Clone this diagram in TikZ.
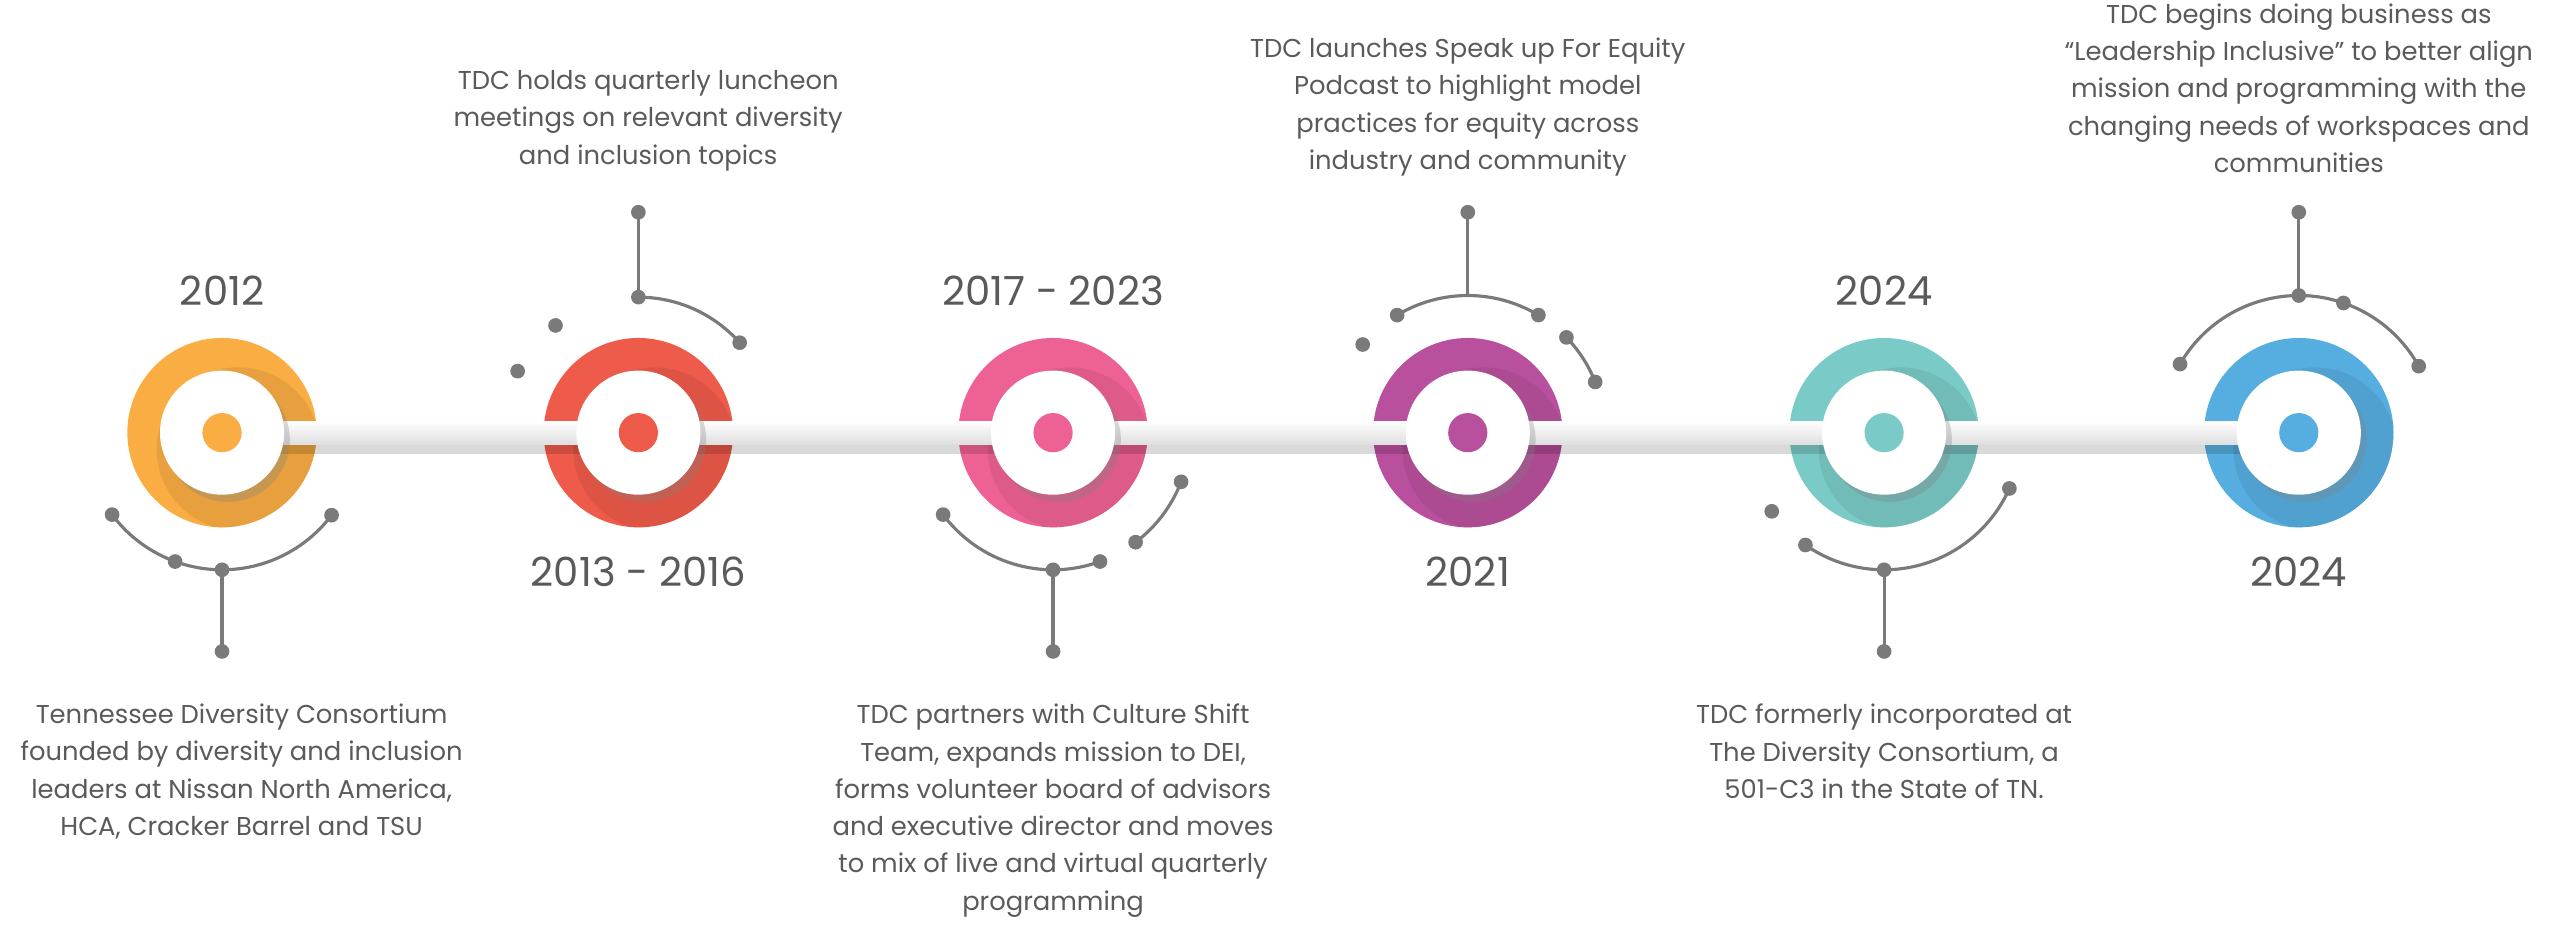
\documentclass[tikz,border=0pt]{standalone}
\usepackage{fontspec}
\setmainfont{Poppins}
\usetikzlibrary{shadows,calc}
\definecolor{cA}{HTML}{F9AD42}
\definecolor{cB}{HTML}{EF5B4A}
\definecolor{cC}{HTML}{EE6194}
\definecolor{cD}{HTML}{B9509E}
\definecolor{cE}{HTML}{7ACBC7}
\definecolor{cF}{HTML}{56AEE0}
\definecolor{txt}{HTML}{5A5A5A}
\definecolor{lin}{HTML}{7A7A7A}
\tikzset{
 ring/.style={circle,minimum size=116*0.02cm,inner sep=0},
 disc/.style={circle,fill=white,minimum size=76*0.02cm,inner sep=0,drop shadow={shadow xshift=2pt,shadow yshift=-2.5pt,opacity=.3}},
 dotc/.style={circle,minimum size=24*0.02cm,inner sep=0},
 yr/.style={font=\fontsize{14}{16}\selectfont,text=txt},
 desc/.style={font=\fontsize{9}{13}\selectfont,text=txt,align=center,anchor=north},
 con/.style={draw=lin,line width=1.1pt},
 pt/.style={fill=lin,circle,inner sep=0,minimum size=9*0.02cm}
}
\begin{document}
\begin{tikzpicture}[x=0.02cm,y=-0.02cm]
\useasboundingbox (0,0) rectangle (1568,578);
% rings
\foreach \n/\x/\c in {1/136/cA,2/391/cB,3/645/cC,4/899/cD,5/1154/cE,6/1408/cF}{
 \node[ring,fill=\c] (r\n) at (\x,265) {};
 \begin{scope}
 \clip (\x,265) circle (58);
 \fill[\c!80!black,opacity=.35] (\x+10,275) circle (50);
 \end{scope}
}
% bar
\fill[black,opacity=.15] (136,262) rectangle (1408,278);
\shade[top color=white,bottom color=gray!25] (136,258) rectangle (1408,272);
\foreach \n/\x/\c in {1/136/cA,2/391/cB,3/645/cC,4/899/cD,5/1154/cE,6/1408/cF}{
 \node[disc] (d\n) at (\x,265) {};
 \node[dotc,fill=\c] (m\n) at (\x,265) {};
}
% years
\node[yr] (y1) at (136,178) {2012};
\node[yr] (y2) at (391,350) {2013 - 2016};
\node[yr] (y3) at (645,178) {2017 - 2023};
\node[yr] (y4) at (899,350) {2021};
\node[yr] (y5) at (1154,178) {2024};
\node[yr] (y6) at (1408,350) {2024};
% decorations 1
\coordinate (c1) at (136,265);
\draw[con] ($(c1)+(-216.7:84)$) arc[start angle=-216.7,end angle=-323,radius=84];
\node[pt] (p1a) at ($(c1)+(-216.7:84)$) {};
\node[pt] (p1b) at ($(c1)+(-250:84)$) {};
\node[pt] (p1c) at (136,349) {};
\node[pt] (p1d) at ($(c1)+(-323:84)$) {};
\node[pt] (p1e) at (136,399) {};
\draw[con] (p1c.center) -- (p1e.center);
% 2
\coordinate (c2) at (391,265);
\draw[con] ($(c2)+(-41.6:83)$) arc[start angle=-41.6,end angle=-90,radius=83];
\node[pt] (p2a) at ($(c2)+(-41.6:83)$) {};
\node[pt] (p2b) at (391,182) {};
\node[pt] (p2c) at ($(c2)+(-127.7:83)$) {};
\node[pt] (p2d) at ($(c2)+(-153:83)$) {};
\node[pt] (p2e) at (391,130) {};
\draw[con] (p2b.center) -- (p2e.center);
% 3
\coordinate (c3) at (645,265);
\draw[con] ($(c3)+(-216.7:84)$) arc[start angle=-216.7,end angle=-290,radius=84];
\draw[con] ($(c3)+(-307:84)$) arc[start angle=-307,end angle=-339,radius=84];
\node[pt] (p3a) at ($(c3)+(-216.7:84)$) {};
\node[pt] (p3b) at (645,349) {};
\node[pt] (p3c) at ($(c3)+(-290:84)$) {};
\node[pt] (p3d) at ($(c3)+(-307:84)$) {};
\node[pt] (p3f) at ($(c3)+(-339:84)$) {};
\node[pt] (p3e) at (645,399) {};
\draw[con] (p3b.center) -- (p3e.center);
% 4
\coordinate (c4) at (899,265);
\draw[con] ($(c4)+(-121:84)$) arc[start angle=-121,end angle=-59,radius=84];
\draw[con] ($(c4)+(-44:84)$) arc[start angle=-44,end angle=-21.7,radius=84];
\node[pt] (p4a) at ($(c4)+(-121:84)$) {};
\node[pt] (p4b) at ($(c4)+(-59:84)$) {};
\node[pt] (p4c) at ($(c4)+(-140:84)$) {};
\node[pt] (p4d) at ($(c4)+(-44:84)$) {};
\node[pt] (p4f) at ($(c4)+(-21.7:84)$) {};
\node[pt] (p4e) at (899,130) {};
\coordinate (p4t) at (899,181);
\draw[con] (p4t) -- (p4e.center);
% 5
\coordinate (c5) at (1154,265);
\draw[con] ($(c5)+(-235:84)$) arc[start angle=-235,end angle=-336,radius=84];
\node[pt] (p5a) at ($(c5)+(-215:84)$) {};
\node[pt] (p5b) at ($(c5)+(-235:84)$) {};
\node[pt] (p5c) at (1154,349) {};
\node[pt] (p5d) at ($(c5)+(-336:84)$) {};
\node[pt] (p5e) at (1154,399) {};
\draw[con] (p5c.center) -- (p5e.center);
% 6
\coordinate (c6) at (1408,265);
\draw[con] ($(c6)+(-150:84)$) arc[start angle=-150,end angle=-29,radius=84];
\node[pt] (p6a) at ($(c6)+(-150:84)$) {};
\node[pt] (p6b) at (1408,181) {};
\node[pt] (p6c) at ($(c6)+(-71:84)$) {};
\node[pt] (p6d) at ($(c6)+(-29:84)$) {};
\node[pt] (p6e) at (1408,130) {};
\draw[con] (p6b.center) -- (p6e.center);
% texts
\node[desc] (t1) at (148,425) {Tennessee Diversity Consortium\\founded by diversity and inclusion\\leaders at Nissan North America,\\HCA, Cracker Barrel and TSU};
\node[desc] (t2) at (397,37) {TDC holds quarterly luncheon\\meetings on relevant diversity\\and inclusion topics};
\node[desc] (t3) at (645,425) {TDC partners with Culture Shift\\Team, expands mission to DEI,\\forms volunteer board of advisors\\and executive director and moves\\to mix of live and virtual quarterly\\programming};
\node[desc] (t4) at (899,17) {TDC launches Speak up For Equity\\Podcast to highlight model\\practices for equity across\\industry and community};
\node[desc] (t5) at (1154,425) {TDC formerly incorporated at\\The Diversity Consortium, a\\501-C3 in the State of TN.};
\node[desc] (t6) at (1408,-4) {TDC begins doing business as\\“Leadership Inclusive” to better align\\mission and programming with the\\changing needs of workspaces and\\communities};
\end{tikzpicture}
\end{document}
